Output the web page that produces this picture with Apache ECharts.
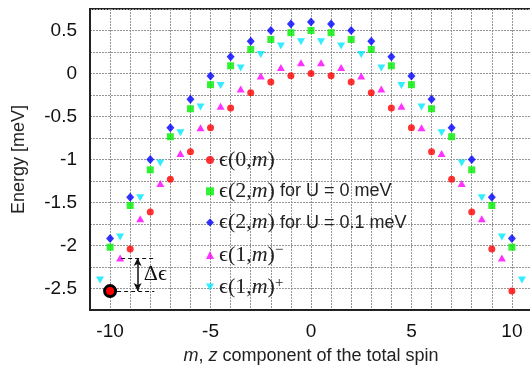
<!DOCTYPE html>
<html>
<head>
<meta charset="utf-8">
<script src="https://cdn.jsdelivr.net/npm/echarts@6/dist/echarts.min.js"></script>
<style>
  html, body { margin: 0; padding: 0; background: #fff; }
  #chart { width: 530px; height: 368px; }
</style>
</head>
<body>
<div id="chart"></div>
<script>
// spin projections
const mInt = [-10, -9, -8, -7, -6, -5, -4, -3, -2, -1, 0, 1, 2, 3, 4, 5, 6, 7, 8, 9, 10];
const mHalfMinus = [-9.5, -8.5, -7.5, -6.5, -5.5, -4.5, -3.5, -2.5, -1.5, -0.5,
                    0.5, 1.5, 2.5, 3.5, 4.5, 5.5, 6.5, 7.5, 8.5, 9.5];
const mHalfPlus = [-10.5, -9.5, -8.5, -7.5, -6.5, -5.5, -4.5, -3.5, -2.5, -1.5, -0.5,
                   0.5, 1.5, 2.5, 3.5, 4.5, 5.5, 6.5, 7.5, 8.5, 9.5, 10.5];

// energies [meV]
const e0 = [-2.53, -2.04, -1.61, -1.23, -0.91, -0.63, -0.40, -0.225, -0.10, -0.025, 0.00,
            -0.025, -0.10, -0.225, -0.40, -0.63, -0.91, -1.23, -1.61, -2.04, -2.53];
const e2u0 = [-2.02, -1.535, -1.12, -0.735, -0.41, -0.13, 0.09, 0.28, 0.395, 0.475, 0.50,
              0.475, 0.395, 0.28, 0.09, -0.13, -0.41, -0.735, -1.12, -1.535, -2.02];
const e2u1 = [-1.92, -1.44, -1.00, -0.63, -0.30, -0.03, 0.195, 0.375, 0.50, 0.575, 0.60,
              0.575, 0.50, 0.375, 0.195, -0.03, -0.30, -0.63, -1.00, -1.44, -1.92];
const e1m = [-2.145, -1.69, -1.28, -0.93, -0.63, -0.38, -0.18, -0.03, 0.07, 0.125,
             0.125, 0.07, -0.03, -0.18, -0.38, -0.63, -0.93, -1.28, -1.69, -2.145];
const e1p = [-2.40, -1.90, -1.445, -1.04, -0.69, -0.39, -0.14, 0.065, 0.22, 0.32, 0.37,
             0.37, 0.32, 0.22, 0.065, -0.14, -0.39, -0.69, -1.04, -1.445, -1.90, -2.40];

const seriesNames = ['e0', 'e2u0', 'e2u1', 'e1m', 'e1p'];
const legendLabels = [
  '{g|ϵ(0,}{i|m}{g|)}',
  '{g|ϵ(2,}{i|m}{g|)}{s| for U = 0 meV}',
  '{g|ϵ(2,}{i|m}{g|)}{s| for U = 0.1 meV}',
  '{g|ϵ(1,}{i|m}{g|)}{sup|−}',
  '{g|ϵ(1,}{i|m}{g|)}{sup|+}'
];

// Δϵ annotation (data coords)
const deltaSpan = [-9.45, -7.8];
const arrowM = -8.63;
const deltaLabelAt = [-8.35, -2.335];

const serif = "'Liberation Serif', 'DejaVu Serif', serif";
const sans = "'Liberation Sans', Arial, sans-serif";

function pairs(xs, ys) {
  return xs.map((x, i) => [x, ys[i]]);
}

const chart = echarts.init(document.getElementById('chart'));

const gridLine = { show: true, lineStyle: { color: '#959595', type: [2, 1], width: 1 } };

const option = {
  animation: false,
  grid: {
    left: 90, top: 9, width: 442, height: 301,
    outerBoundsMode: 'none',
    containLabel: false,
    show: true, borderColor: '#222', borderWidth: 2
  },
  legend: {
    orient: 'vertical',
    left: 201, top: 144,
    itemWidth: 8, itemHeight: 8,
    itemGap: 9.3,
    data: seriesNames,
    formatter: name => legendLabels[seriesNames.indexOf(name)],
    textStyle: {
      color: '#222',
      rich: {
        g: { fontFamily: serif, fontSize: 22, lineHeight: 24, color: '#222' },
        i: { fontFamily: serif, fontStyle: 'italic', fontSize: 22, lineHeight: 24, color: '#222' },
        s: { fontFamily: sans, fontSize: 18, lineHeight: 24, color: '#222' },
        sup: { fontFamily: serif, fontSize: 15, lineHeight: 15, verticalAlign: 'top', color: '#222' }
      }
    }
  },
  xAxis: {
    type: 'value',
    min: -11, max: 11, interval: 1,
    name: '{i|m}, {i|z} component of the total spin',
    nameLocation: 'middle',
    nameGap: 37,
    nameTextStyle: {
      fontFamily: sans, fontSize: 18, color: '#222',
      rich: { i: { fontFamily: sans, fontStyle: 'italic', fontSize: 18, color: '#222' } }
    },
    axisLine: { show: true, onZero: false, lineStyle: { color: '#222', width: 2 } },
    axisTick: { show: false },
    axisLabel: {
      fontFamily: sans, fontSize: 19, color: '#111', margin: 12,
      formatter: v => (v % 5 === 0 && Math.abs(v) <= 10) ? String(v) : ''
    },
    splitLine: gridLine
  },
  yAxis: {
    type: 'value',
    min: -2.75, max: 0.75, interval: 0.25,
    name: 'Energy [meV]',
    nameLocation: 'middle',
    nameGap: 62,
    nameTextStyle: { fontFamily: sans, fontSize: 18, color: '#222' },
    axisLine: { show: true, onZero: false, lineStyle: { color: '#222', width: 2 } },
    axisTick: { show: false },
    axisLabel: {
      fontFamily: sans, fontSize: 19, color: '#111', margin: 13,
      formatter: v => {
        const r = Math.round(v * 100) / 100;
        if (Math.abs(r * 2 - Math.round(r * 2)) > 1e-6 || r > 0.6 || r < -2.6) return '';
        return String(r);
      }
    },
    splitLine: gridLine
  },
  series: [
    {
      name: 'e0', type: 'scatter', symbol: 'circle', symbolSize: 7,
      itemStyle: { color: '#ff0000' },
      data: pairs(mInt, e0), z: 5,
      markPoint: {
        silent: true,
        symbol: 'circle', symbolSize: 11,
        itemStyle: { color: '#ff0000', borderColor: '#000', borderWidth: 3 },
        label: { show: false },
        data: [{ coord: [mInt[0], e0[0]] }]
      },
      markLine: {
        silent: true,
        animation: false,
        label: { show: false },
        lineStyle: { color: '#111', width: 1.2, type: [4, 3] },
        data: [
          [{ coord: [deltaSpan[0], e1m[0]], symbol: 'none' },
           { coord: [deltaSpan[1], e1m[0]], symbol: 'none' }],
          [{ coord: [mInt[0] + 0.35, e0[0]], symbol: 'none' },
           { coord: [deltaSpan[1], e0[0]], symbol: 'none' }],
          [{ coord: [arrowM, e1m[0]], symbol: 'arrow', symbolSize: [6, 8],
             lineStyle: { type: 'solid', width: 1.5, color: '#111' } },
           { coord: [arrowM, e0[0]], symbol: 'arrow', symbolSize: [6, 8],
             lineStyle: { type: 'solid', width: 1.5, color: '#111' } }]
        ]
      }
    },
    {
      name: 'e2u0', type: 'scatter', symbol: 'rect', symbolSize: 7,
      itemStyle: { color: '#00ee00' },
      data: pairs(mInt, e2u0), z: 4
    },
    {
      name: 'e2u1', type: 'scatter', symbol: 'diamond', symbolSize: [8, 9],
      itemStyle: { color: '#0000ff' },
      data: pairs(mInt, e2u1), z: 4
    },
    {
      name: 'e1m', type: 'scatter', symbol: 'triangle', symbolSize: [8, 7],
      itemStyle: { color: '#ff00ff' },
      data: pairs(mHalfMinus, e1m), z: 4,
      markPoint: {
        silent: true,
        symbol: 'circle', symbolSize: 1,
        itemStyle: { color: 'rgba(0,0,0,0)' },
        label: {
          show: true, position: 'right', distance: 0,
          formatter: 'Δϵ', fontFamily: serif, fontSize: 22, color: '#111'
        },
        data: [{ coord: deltaLabelAt }]
      }
    },
    {
      name: 'e1p', type: 'scatter', symbol: 'path://M0,0 L10,0 L5,9 Z', symbolSize: [8, 7],
      itemStyle: { color: '#00e8ff' },
      data: pairs(mHalfPlus, e1p), z: 4
    }
  ]
};

chart.setOption(option);
</script>
</body>
</html>
